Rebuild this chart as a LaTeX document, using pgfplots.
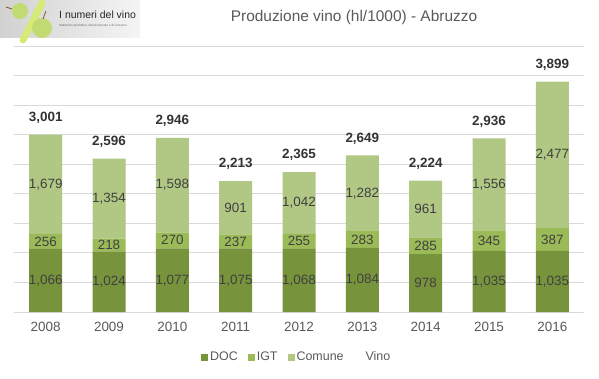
\documentclass[border=0pt]{standalone}
\usepackage{pgfplots}
\pgfplotsset{compat=1.18}
\usepackage{pgfplotstable}
\usepackage{fontspec}
\setmainfont{Liberation Sans}
\definecolor{doc}{HTML}{77933C}
\definecolor{igt}{HTML}{9BBB59}
\definecolor{comune}{HTML}{B0C884}
\definecolor{gridc}{HTML}{D9D9D9}
\definecolor{txt}{HTML}{595959}
\definecolor{lbl}{HTML}{404040}
\definecolor{grape}{HTML}{C2DA72}
\definecolor{slash}{HTML}{D6EA78}
\pgfplotstableread{
x year doc igt comune total
0 2008 1066 256 1679 3001
1 2009 1024 218 1354 2596
2 2010 1077 270 1598 2946
3 2011 1075 237 901 2213
4 2012 1068 255 1042 2365
5 2013 1084 283 1282 2649
6 2014 978 285 961 2224
7 2015 1035 345 1556 2936
8 2016 1035 387 2477 3899
}\data
\pgfplotsset{
  base/.style={
    at={(14bp,66bp)}, anchor=south west,
    scale only axis, width=570bp, height=266bp,
    xmin=-0.5, xmax=8.5, ymin=0, ymax=4500,
  },
  lblplot/.style={only marks, mark=*, mark size=0pt,
    mark options={draw opacity=0, fill opacity=0},
    nodes near coords, point meta=explicit,
    every node near coord/.append style={anchor=center, inner sep=0pt,
      font=\fontsize{13.5}{13.5}\selectfont, text=lbl, text opacity=1}},
}
\begin{document}
\begin{tikzpicture}[x=1bp,y=1bp]
\path[use as bounding box] (0,0) rectangle (599,378);
% logo
\shade[left color=black!18, right color=black!4] (0,341) rectangle (140,378);
\draw[line width=7bp, slash, line cap=round] (42,375) -- (23,338);
\fill[grape] (20,367) circle (8);
\fill[grape] (42,350) circle (10);
\draw[brown!70!black, line width=0.8bp] (12,369) -- (6,371);
\draw[brown!70!black, line width=0.8bp] (43,359) -- (46,367);
\node[anchor=west, inner sep=0pt, text=black!85, font=\fontsize{10.5}{10.5}\selectfont] at (59,363) {I numeri del vino};
\node[anchor=west, inner sep=0pt, text=black!60, font=\fontsize{3}{3}\selectfont] at (59,352) {Statistiche produttive, dati di mercato e di consumo.};
% title
\node[text=txt, font=\fontsize{15.5}{15.5}\selectfont] at (354,360) {Produzione vino (hl/1000) - Abruzzo};
\begin{axis}[base, ybar stacked, bar width=33bp,
  axis line style={draw=none}, major tick length=0pt,
  ytick={0,500,...,4500}, yticklabels={}, ymajorgrids,
  grid style={gridc, line width=0.9bp},
  xtick={0,...,8},
  xticklabels={2008,2009,2010,2011,2012,2013,2014,2015,2016},
  x tick label style={font=\fontsize{13.5}{13.5}\selectfont, text=txt, yshift=-7bp},
  legend style={at={(0.496,-0.17)}, anchor=center, draw=none, fill=none,
    legend columns=-1, font=\fontsize{12.5}{12.5}\selectfont, text=txt,
    /tikz/every even column/.append style={column sep=8bp}},
  legend image code/.code={\fill[#1] (0bp,-3.5bp) rectangle (7bp,3.5bp);},
]
\addplot[fill=doc, draw=none] table[x=x,y=doc]{\data};
\addlegendentry{DOC}
\addplot[fill=igt, draw=none] table[x=x,y=igt]{\data};
\addlegendentry{IGT}
\addplot[fill=comune, draw=none] table[x=x,y=comune]{\data};
\addlegendentry{Comune}
\addlegendimage{empty legend}
\addlegendentry{\hspace{10bp}Vino}
\end{axis}
\begin{axis}[base, hide axis, clip=false,
  /pgf/number format/1000 sep={,}, /pgf/number format/assume math mode=true]
\addplot[lblplot] table[x=x, y expr=\thisrow{doc}/2, meta=doc]{\data};
\addplot[lblplot] table[x=x, y expr=\thisrow{doc}+\thisrow{igt}/2, meta=igt]{\data};
\addplot[lblplot] table[x=x, y expr=\thisrow{doc}+\thisrow{igt}+\thisrow{comune}/2, meta=comune]{\data};
\addplot[lblplot, every node near coord/.append style={font=\fontsize{13.5}{13.5}\bfseries, text=black!80, yshift=17bp}] table[x=x, y=total, meta=total]{\data};
\end{axis}
\end{tikzpicture}
\end{document}
